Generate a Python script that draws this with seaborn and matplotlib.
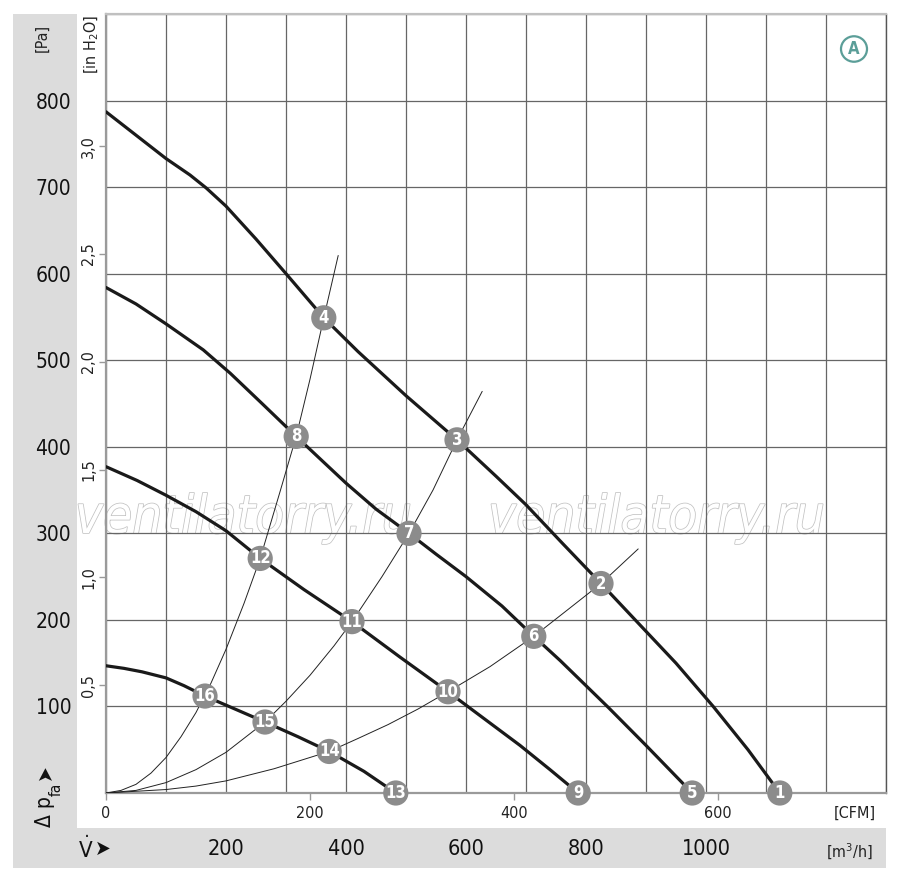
import numpy as np
import matplotlib.pyplot as plt
import matplotlib.patheffects as pe
from matplotlib.patches import Rectangle, Circle
import pandas as pd
import seaborn as sns

# fan curves: airflow [m3/h] and pressure [Pa], read from the sheet
q_fan1 = [0, 50, 100, 140, 167, 200, 250, 300, 363, 420, 500, 585, 650, 700, 760, 825, 882, 950, 1012, 1070, 1123]
p_fan1 = [787, 760, 733, 714, 699, 678, 640, 600, 549, 510, 459, 408, 366, 333, 289, 242, 200, 150, 100, 50, 0]
q_fan2 = [0, 50, 100, 162, 207, 260, 317, 360, 400, 450, 505, 550, 600, 660, 713, 757, 800, 837, 900, 977]
p_fan2 = [584, 565, 542, 512, 485, 450, 412, 384, 358, 328, 300, 276, 250, 216, 181, 153, 124, 99, 55, 0]
q_fan3 = [0, 52, 100, 150, 200, 257, 330, 410, 490, 570, 630, 690, 740, 787]
p_fan3 = [377, 361, 344, 325, 303, 271, 235, 198, 157, 117, 86, 55, 27, 0]
q_fan4 = [0, 30, 60, 100, 130, 165, 215, 265, 320, 372, 430, 483]
p_fan4 = [147, 144, 140, 133, 124, 112, 97, 82, 65, 48, 25, 0]

# system curves (thin lines)
q_sys1 = [0, 25, 50, 75, 100, 125, 150, 175, 200, 230, 257, 290, 317, 340, 363, 387]
p_sys1 = [0, 3, 10, 23, 41, 65, 93, 127, 166, 219, 271, 348, 412, 478, 549, 621]
q_sys2 = [0, 50, 100, 150, 200, 265, 300, 340, 380, 410, 460, 505, 545, 585, 627]
p_sys2 = [0, 3, 12, 27, 47, 82, 106, 136, 170, 198, 250, 300, 350, 408, 464]
q_sys3 = [0, 100, 150, 200, 280, 372, 420, 470, 520, 570, 640, 713, 770, 825, 887]
p_sys3 = [0, 4, 8, 14, 28, 48, 63, 79, 97, 117, 146, 181, 212, 242, 282]

# numbered operating points
pt_labels = ['1', '2', '3', '4', '5', '6', '7', '8', '9', '10', '11', '12', '13', '14', '15', '16']
pt_q = [1123, 825, 585, 363, 977, 713, 505, 317, 787, 570, 410, 257, 483, 372, 265, 165]
pt_p = [0, 242, 408, 549, 0, 181, 300, 412, 0, 117, 198, 271, 0, 48, 82, 112]

# axis ticks
pa_ticks = [100, 200, 300, 400, 500, 600, 700, 800]
inh2o_ticks = [0.5, 1.0, 1.5, 2.0, 2.5, 3.0]
inh2o_labels = ['0,5', '1,0', '1,5', '2,0', '2,5', '3,0']
m3h_ticks = [200, 400, 600, 800, 1000]
cfm_ticks = [0, 200, 400, 600]

FONT = ['DejaVu Sans']
BAND = '#dcdcdc'
GRID = '#666666'

sns.set_theme(style='white')
plt.rcParams['font.family'] = FONT
plt.rcParams['font.stretch'] = 'condensed'
plt.rcParams['mathtext.fontset'] = 'dejavusans'

W, H = 900, 882
fig = plt.figure(figsize=(9, 8.82), dpi=100, facecolor='white')


def fx(px):
    return px / W


def fy(py):
    return 1 - py / H


ax = fig.add_axes([fx(106), fy(793), fx(886) - fx(106), fy(14) - fy(793)])
ax.set_facecolor('none')

# grey L-shaped band behind the labels
fig.patches.append(Rectangle((fx(13), fy(868)), fx(77) - fx(13), fy(14) - fy(868),
                             transform=fig.transFigure, facecolor=BAND, edgecolor='none', zorder=-5))
fig.patches.append(Rectangle((fx(13), fy(868)), fx(886) - fx(13), fy(828) - fy(868),
                             transform=fig.transFigure, facecolor=BAND, edgecolor='none', zorder=-5))

# watermark
for xw in [75, 488]:
    fig.text(fx(xw), fy(533), 'ventilatorry.ru', fontsize=38, style='italic', color='white',
             family=FONT, stretch='condensed', zorder=-2, va='baseline',
             path_effects=[pe.Stroke(linewidth=1.1, foreground='#c2c2c2'), pe.Normal()])

ax.set_xlim(0, 1300)
ax.set_ylim(0, 900)
ax.set_xticks(np.arange(0, 1301, 100))
ax.set_yticks(np.arange(0, 901, 100))
ax.grid(True, color=GRID, linewidth=0.9)
ax.set_axisbelow(True)

ax.set_xticklabels([str(t) if t in m3h_ticks else '' for t in np.arange(0, 1301, 100)])
ax.set_yticklabels([str(t) if t in pa_ticks else '' for t in np.arange(0, 901, 100)])
ax.tick_params(axis='x', length=0, pad=33, labelsize=15.5, labelcolor='#111')
ax.tick_params(axis='y', length=0, pad=25, labelsize=15, labelcolor='#111')

for side in ['left', 'bottom']:
    ax.spines[side].set_color('#9a9a9a')
    ax.spines[side].set_linewidth(1.6)
ax.spines['top'].set_color('#c0c0c0')
ax.spines['top'].set_linewidth(1.6)
ax.spines['right'].set_color('#555555')
ax.spines['right'].set_linewidth(1.0)

# CFM scale
cfm = ax.secondary_xaxis('bottom', functions=(lambda q: q / 1.699, lambda c: c * 1.699))
cfm.set_xticks(cfm_ticks)
cfm.set_xticklabels([str(t) for t in cfm_ticks])
cfm.tick_params(length=5, width=1, color='#999999', pad=4, labelsize=11.5, labelcolor='#222')
cfm.spines['bottom'].set_visible(False)

# in H2O scale
wg = ax.secondary_yaxis('left', functions=(lambda p: p / 249.09, lambda w: w * 249.09))
wg.set_yticks(inh2o_ticks)
wg.set_yticklabels(inh2o_labels)
wg.tick_params(length=5, width=1, color='#999999', pad=2, labelsize=11.5, labelcolor='#222')
for lab in wg.get_yticklabels():
    lab.set_rotation(90)
    lab.set_va('center')
wg.spines['left'].set_visible(False)

# curves
fan = pd.DataFrame({
    'q': q_fan1 + q_fan2 + q_fan3 + q_fan4,
    'p': p_fan1 + p_fan2 + p_fan3 + p_fan4,
    'curve': [1] * len(q_fan1) + [2] * len(q_fan2) + [3] * len(q_fan3) + [4] * len(q_fan4),
})
sysc = pd.DataFrame({
    'q': q_sys1 + q_sys2 + q_sys3,
    'p': p_sys1 + p_sys2 + p_sys3,
    'curve': [1] * len(q_sys1) + [2] * len(q_sys2) + [3] * len(q_sys3),
})
sns.lineplot(data=sysc, x='q', y='p', units='curve', estimator=None, sort=False,
             color='#222222', linewidth=0.7, ax=ax, zorder=3)
sns.lineplot(data=fan, x='q', y='p', units='curve', estimator=None, sort=False,
             color='#1a1a1a', linewidth=2.3, ax=ax, zorder=4)

pts = pd.DataFrame({'q': pt_q, 'p': pt_p, 'lab': pt_labels})
sns.scatterplot(data=pts, x='q', y='p', s=330, color='#8c8c8c', edgecolor='none',
                ax=ax, zorder=5, clip_on=False)
for q, p, lab in zip(pt_q, pt_p, pt_labels):
    ax.text(q, p, lab, ha='center', va='center', color='white', fontsize=12,
            fontweight='bold', zorder=6, clip_on=False)

ax.set_xlabel('')
ax.set_ylabel('')
ax.set_xlim(0, 1300)
ax.set_ylim(0, 900)

# unit labels
fig.text(fx(42), fy(38), '[Pa]', rotation=90, ha='center', va='center', fontsize=11.5, color='#222')
fig.text(fx(92), fy(45), '[in H$_2$O]', rotation=90, ha='center', va='center', fontsize=11.5, color='#222')
fig.text(fx(855), fy(813), '[CFM]', ha='center', va='center', fontsize=11.5, color='#222')
fig.text(fx(850), fy(852), '[m$^3$/h]', ha='center', va='center', fontsize=11.5, color='#222')

fig.text(fx(45), fy(812), '\u0394 p', rotation=90, ha='center', va='center', fontsize=15, color='#111')
fig.text(fx(56), fy(789), 'fa', rotation=90, ha='center', va='center', fontsize=11, color='#111')
fig.text(fx(45), fy(772), '\u27a4', rotation=90, ha='center', va='center', fontsize=15, color='#111')
fig.text(fx(86), fy(849), r'$\dot{\mathrm{V}}$', ha='center', va='center', fontsize=16, color='#111')
fig.text(fx(103), fy(849), '\u27a4', ha='center', va='center', fontsize=15, color='#111')

# circled A
fig.patches.append(Circle((fx(854), fy(49)), 13 / W, transform=fig.transFigure,
                          facecolor='none', edgecolor='#5b9e98', linewidth=1.6, zorder=10))
fig.text(fx(854), fy(49), 'A', ha='center', va='center', fontsize=12, fontweight='bold',
         color='#5b9e98', zorder=11)

fig.savefig('out.png', dpi=100, facecolor='white')
